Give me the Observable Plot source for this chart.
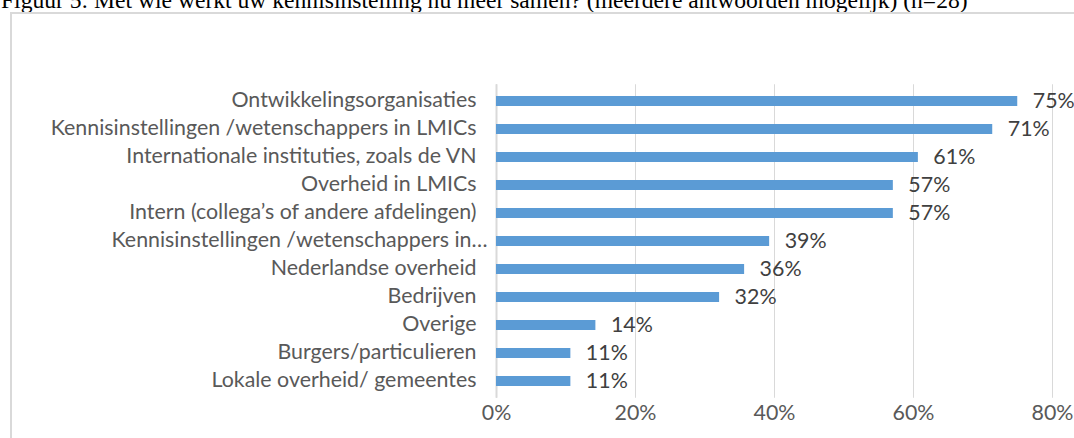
<!DOCTYPE html>
<html><head><meta charset="utf-8">
<script src="https://cdn.jsdelivr.net/npm/d3@7"></script>
<script src="https://cdn.jsdelivr.net/npm/@observablehq/plot@0.6"></script>
<style>
html,body{margin:0;padding:0;background:#fff;}
#wrap{position:relative;width:1074px;height:438px;overflow:hidden;}
#title{position:absolute;left:1px;white-space:nowrap;font-family:"Liberation Serif","Times New Roman",serif;color:#000;line-height:1;}
#frame{position:absolute;left:10px;top:12px;width:1100px;height:500px;border-left:2px solid #d9d9d9;border-top:2px solid #d9d9d9;}
#chart{position:absolute;left:0;top:0;}
</style></head><body>
<div id="wrap"><div id="title"></div><div id="frame"></div><div id="chart"></div></div>
<script>
const titleText = "Figuur 5: Met wie werkt uw kennisinstelling nu meer samen? (meerdere antwoorden mogelijk) (n=28)";
const categories = [
  "Ontwikkelingsorganisaties",
  "Kennisinstellingen /wetenschappers in LMICs",
  "Internationale instituties, zoals de VN",
  "Overheid in LMICs",
  "Intern (collega’s of andere afdelingen)",
  "Kennisinstellingen /wetenschappers in…",
  "Nederlandse overheid",
  "Bedrijven",
  "Overige",
  "Burgers/particulieren",
  "Lokale overheid/ gemeentes"
];
const values = [75, 71.4, 60.7, 57.1, 57.1, 39.3, 35.7, 32.1, 14.3, 10.7, 10.7];
const valueLabels = ["75%", "71%", "61%", "57%", "57%", "39%", "36%", "32%", "14%", "11%", "11%"];
const xTicks = [0, 20, 40, 60, 80];

function measure(text, font) {
  const c = document.createElement("canvas").getContext("2d");
  c.font = font;
  return c.measureText(text).width;
}
const FONT = "Lato";
const fs = 23 * 426 / measure("Kennisinstellingen /wetenschappers in LMICs", `23px ${FONT}`);
const tfs = 21.3 * 967 / measure(titleText, `21.3px "Liberation Serif"`);

const title = document.getElementById("title");
title.textContent = titleText;
title.style.fontSize = tfs + "px";
title.style.top = (8.5 - 0.8375 * tfs) + "px";

const data = categories.map((c, i) => ({category: c, value: values[i], label: valueLabels[i]}));
const truncated = categories.filter(c => c.endsWith("…"));
const normal = categories.filter(c => !c.endsWith("…"));

const chart = Plot.plot({
  width: 1074, height: 438,
  marginTop: 84.25, marginBottom: 40.25, marginLeft: 496, marginRight: 22,
  style: {fontFamily: FONT, fontSize: fs + "px", background: "transparent", color: "#595959", overflow: "visible"},
  x: {domain: [0, 80], ticks: xTicks, label: null},
  y: {domain: categories, paddingInner: 0.65, paddingOuter: 0.325, label: null},
  marks: [
    Plot.gridX(xTicks, {stroke: "#d9d9d9", strokeOpacity: 1, strokeWidth: 1}),
    Plot.ruleX([0], {stroke: "#d9d9d9", strokeWidth: 2}),
    Plot.barX(data, {x: "value", y: "category", fill: "#5b9bd5"}),
    Plot.text(data, {x: "value", y: "category", text: "label", textAnchor: "start", dx: 15, dy: 0, fill: "#404040"}),
    Plot.axisX(xTicks, {tickSize: 0, tickPadding: 7, tickFormat: d => d + "%", fill: "#595959", label: null}),
    Plot.axisY(normal, {tickSize: 0, tickPadding: 20, dy: -1, fill: "#595959", label: null}),
    Plot.axisY(truncated, {tickSize: 0, tickPadding: 9, dy: -1, fill: "#595959", label: null})
  ]
});
document.getElementById("chart").appendChild(chart);
</script>
</body></html>
